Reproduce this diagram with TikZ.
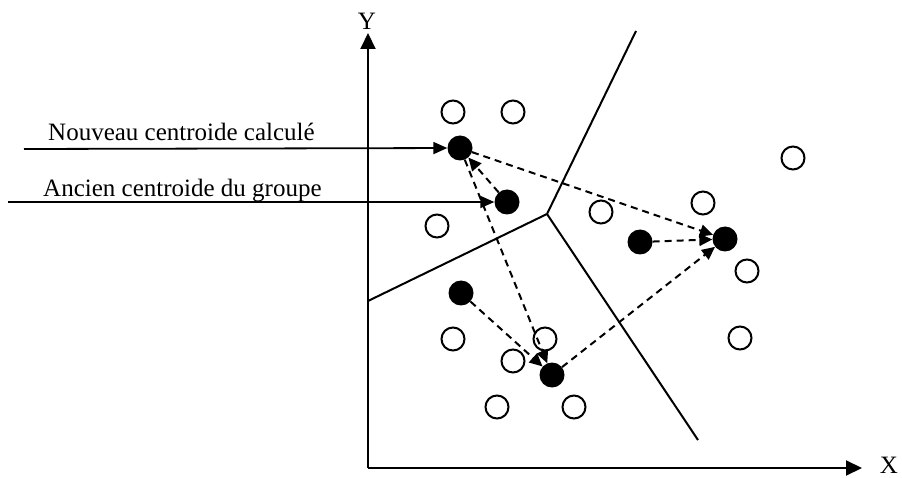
\documentclass[tikz,border=0pt]{standalone}
\usepackage{fontspec}
\setmainfont{Liberation Serif}
\usetikzlibrary{arrows.meta}
\begin{document}
\begin{tikzpicture}[x=1pt,y=-1pt,
  pt/.style={circle,draw,line width=2pt,minimum size=23pt,inner sep=0pt},
  ctr/.style={circle,fill=black,minimum size=25pt,inner sep=0pt},
  axis/.style={line width=2pt,-{Triangle[length=16pt,width=15pt]}},
  cell/.style={line width=2pt},
  move/.style={line width=2pt,dash pattern=on 7pt off 5pt,-{Triangle[length=13pt,width=12pt]}},
  callout/.style={line width=1.8pt,-{Triangle[length=14pt,width=12pt]}},
  lbl/.style={font=\fontsize{25}{30}\selectfont,inner sep=0pt}]
\useasboundingbox (0,0) rectangle (902,478);

% axes
\coordinate (o) at (368,468);
\coordinate (ytip) at (368,33);
\coordinate (xtip) at (862,468);
\draw[axis] (o) -- (ytip);
\draw[axis] (o) -- (xtip);
\node[lbl] (ylab) at (367,21) {Y};
\node[lbl] (xlab) at (889,465) {X};

% cell boundaries
\coordinate (j) at (547,214);
\coordinate (b1) at (636,31);
\coordinate (b2) at (368,301);
\coordinate (b3) at (698,440);
\draw[cell] (b1) -- (j) -- (b2);
\draw[cell] (j) -- (b3);

% data points
\foreach \n/\x/\y in {p1/453/112, p2/513/112, p3/437/226, p4/601/212,
  p5/703/203, p6/793/158, p7/747/271, p8/740/338, p9/453/339,
  p10/545/339, p11/513/361, p12/497/407, p13/574/407}
  \node[pt] (\n) at (\x,\y) {};

% centroids
\node[ctr] (nouveau) at (460,148) {};
\node[ctr] (ancien) at (507,202) {};
\node[ctr] (c2) at (725,239) {};
\node[ctr] (c3) at (552,375) {};
\node[ctr] (c4) at (461,293) {};
\node[ctr] (c5) at (640,242) {};

% centroid moves
\draw[move] (ancien) -- (nouveau);
\draw[move] (nouveau) -- (c3);
\draw[move] (c4) -- (c3);
\draw[move] (nouveau) -- (c2);
\draw[move] (c5) -- (c2);
\draw[move] (c3) -- (c2);

% callouts
\node[lbl,anchor=base west] (tn) at (48,141) {Nouveau centroide calculé};
\node[lbl,anchor=base west] (ta) at (43,197) {Ancien centroide du groupe};
\coordinate (sn) at (24,149);
\coordinate (sa) at (8,202);
\draw[callout] (sn) -- (nouveau);
\draw[callout] (sa) -- (ancien);
\end{tikzpicture}
\end{document}
